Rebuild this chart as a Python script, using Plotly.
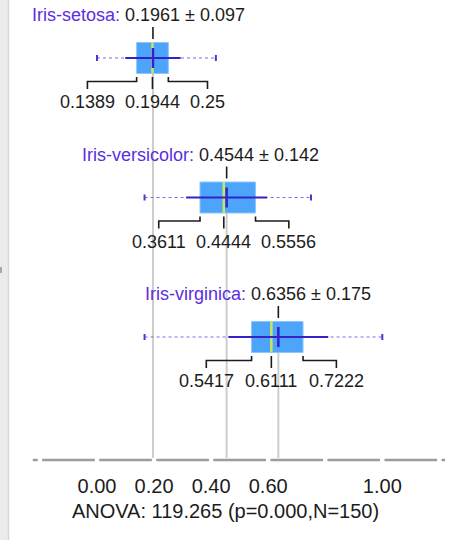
import plotly.graph_objects as go

# Normalised sepal length per iris class: summary statistics
groups = ["Iris-setosa", "Iris-versicolor", "Iris-virginica"]
means = [0.1961, 0.4544, 0.6356]
sds = [0.097, 0.142, 0.175]
q1s = [0.1389, 0.3611, 0.5417]
medians = [0.1944, 0.4444, 0.6111]
q3s = [0.25, 0.5556, 0.7222]
mins = [0.0, 0.1667, 0.1667]
maxs = [0.4167, 0.75, 1.0]

tick_vals = [0.0, 0.2, 0.4, 0.6, 1.0]
tick_text = ["0.00", "0.20", "0.40", "0.60", "1.00"]
axis_marks = [-0.2, 0.0, 0.2, 0.4, 0.6, 0.8, 1.0, 1.2]
axis_span = [-0.225, 1.22]
anova_f, anova_p, n_total = 119.265, 0.000, 150

FONT = "Liberation Sans, Arial, Helvetica, sans-serif"
W, H = 451, 540
X_RANGE = [-0.34, 1.2408]
ROW_PX = 139.5          # vertical distance between rows
FIRST_ROW_PX = 58       # centre of the first row from the top
AXIS_PX = 460           # axis line from the top

px_per_x = W / (X_RANGE[1] - X_RANGE[0])
Y_RANGE = [(H - FIRST_ROW_PX) / ROW_PX, -FIRST_ROW_PX / ROW_PX]
y_axis = (AXIS_PX - FIRST_ROW_PX) / ROW_PX


def dxp(p):
    return p / px_per_x


def dyp(p):
    return p / ROW_PX


WIDTHS = {d: 0.556 for d in "0123456789"}
WIDTHS.update({".": 0.278, " ": 0.278, "±": 0.584})


def text_w(s, size):
    return sum(WIDTHS.get(c, 0.556) for c in s) * size


def fmt(v):
    s = f"{v:.4f}"
    return s.rstrip("0").rstrip(".")


LABEL_SIZE = 18
BOX_HALF = 15.5
GAP = 10

BOX_FILL = "#4ca4fb"
BOX_EDGE = "#8cc6ff"
MEDIAN_C = "#c9e65c"
MEAN_C = "#3321c9"
WHISKER_C = "#7d6ee8"
CAP_C = "#4a36d8"
NAME_C = "#5a2ee0"
TEXT_C = "#1c1c1c"
GRID_C = "#cdcdcd"
AXIS_C = "#9c9c9c"

shapes = []
annotations = []

# side panel edge with its splitter handle
shapes.append(dict(type="rect", xref="paper", yref="paper", x0=0, x1=8 / W, y0=0, y1=1,
                   fillcolor="#ececec", line=dict(width=0), layer="below"))
shapes.append(dict(type="line", xref="paper", yref="paper", x0=8.5 / W, x1=8.5 / W, y0=0, y1=1,
                   line=dict(color="#d8d8d8", width=1.5), layer="below"))
shapes.append(dict(type="rect", xref="paper", yref="paper", x0=0, x1=2 / W,
                   y0=1 - 273 / H, y1=1 - 267 / H,
                   fillcolor="#a8a8a8", line=dict(width=0), layer="below"))

# mean guide lines down to the axis
for k, m in enumerate(means):
    shapes.append(dict(type="line", xref="x", yref="y", x0=m, x1=m, y0=k, y1=y_axis - dyp(2),
                       line=dict(color=GRID_C, width=2), layer="below"))

for k in range(len(groups)):
    m, s = means[k], sds[k]
    q1, med, q3 = q1s[k], medians[k], q3s[k]
    lo, hi = mins[k], maxs[k]

    # whisker (min .. max)
    shapes.append(dict(type="line", xref="x", yref="y", x0=lo, x1=hi, y0=k, y1=k,
                       line=dict(color=WHISKER_C, width=1.2, dash="dot")))
    for v in (lo, hi):
        shapes.append(dict(type="line", xref="x", yref="y", x0=v, x1=v,
                           y0=k - dyp(3), y1=k + dyp(3), line=dict(color=CAP_C, width=2)))
    # interquartile box
    shapes.append(dict(type="rect", xref="x", yref="y", x0=q1, x1=q3,
                       y0=k - dyp(BOX_HALF), y1=k + dyp(BOX_HALF),
                       fillcolor=BOX_FILL, line=dict(color=BOX_EDGE, width=1)))
    # median
    shapes.append(dict(type="line", xref="x", yref="y", x0=med, x1=med,
                       y0=k - dyp(BOX_HALF), y1=k + dyp(BOX_HALF),
                       line=dict(color=MEDIAN_C, width=2.5)))
    # mean +- sd
    shapes.append(dict(type="line", xref="x", yref="y", x0=m - s, x1=m + s, y0=k, y1=k,
                       line=dict(color=MEAN_C, width=2)))
    shapes.append(dict(type="line", xref="x", yref="y", x0=m, x1=m,
                       y0=k - dyp(10), y1=k + dyp(10), line=dict(color=MEAN_C, width=2.5)))
    # tick from box to mean label
    shapes.append(dict(type="line", xref="x", yref="y", x0=m, x1=m,
                       y0=k - dyp(19), y1=k - dyp(31), line=dict(color=TEXT_C, width=1.6)))

    # mean label: name, value centred on the mean, spread
    mean_txt = f"{m:.4f}"
    sd_txt = f"± {s:.3f}"
    half = text_w(mean_txt, LABEL_SIZE) / 2 + text_w(" ", LABEL_SIZE)
    common = dict(xref="x", yref="y", y=k, yshift=43, yanchor="middle", showarrow=False,
                  borderpad=0, borderwidth=0)
    annotations.append(dict(x=m, text=groups[k] + ":", xanchor="right", xshift=-half,
                            font=dict(family=FONT, size=LABEL_SIZE, color=NAME_C), **common))
    annotations.append(dict(x=m, text=mean_txt, xanchor="center",
                            font=dict(family=FONT, size=LABEL_SIZE, color=TEXT_C), **common))
    annotations.append(dict(x=m, text=sd_txt, xanchor="left", xshift=half,
                            font=dict(family=FONT, size=LABEL_SIZE, color=TEXT_C), **common))

    # quartile labels with brackets
    t1, tm, t3 = fmt(q1), fmt(med), fmt(q3)
    w1, wm, w3 = (text_w(t, LABEL_SIZE) for t in (t1, tm, t3))
    x1 = min(q1, med - dxp((w1 + wm) / 2 + GAP))
    x3 = max(q3, med + dxp((wm + w3) / 2 + GAP))
    ya, yb, yc = k + dyp(19), k + dyp(23.5), k + dyp(31)
    for qx, lx in ((q1, x1), (q3, x3)):
        shapes.append(dict(type="path", xref="x", yref="y",
                           path=f"M {qx},{ya} L {qx},{yb} L {lx},{yb} L {lx},{yc}",
                           line=dict(color=TEXT_C, width=1.6)))
    shapes.append(dict(type="line", xref="x", yref="y", x0=med, x1=med, y0=ya, y1=yc,
                       line=dict(color=TEXT_C, width=1.6)))
    for lx, t in ((x1, t1), (med, tm), (x3, t3)):
        annotations.append(dict(xref="x", yref="y", x=lx, y=k, yshift=-44, text=t,
                                xanchor="center", yanchor="middle", showarrow=False,
                                borderpad=0, borderwidth=0,
                                font=dict(family=FONT, size=LABEL_SIZE, color=TEXT_C)))

# broken axis line
bounds = [axis_span[0]] + axis_marks + [axis_span[1]]
gap = dxp(2.2)
seg_x, seg_y = [], []
for a, b in zip(bounds[:-1], bounds[1:]):
    a2 = a + gap if a in axis_marks else a
    b2 = b - gap if b in axis_marks else b
    seg_x += [a2, b2, None]
    seg_y += [y_axis, y_axis, None]

fig = go.Figure()
fig.add_trace(go.Scatter(x=seg_x, y=seg_y, mode="lines", hoverinfo="skip",
                         line=dict(color=AXIS_C, width=2.5), showlegend=False))

fig.update_layout(
    width=W, height=H,
    margin=dict(l=0, r=0, t=0, b=0),
    paper_bgcolor="white", plot_bgcolor="white",
    showlegend=False,
    shapes=shapes,
    annotations=annotations,
    xaxis=dict(
        range=X_RANGE, anchor="free", position=(H - AXIS_PX) / H,
        showgrid=False, zeroline=False, showline=False, ticks="",
        tickvals=tick_vals, ticktext=tick_text,
        tickfont=dict(family=FONT, size=20, color=TEXT_C),
        ticklabelstandoff=12,
        title=dict(text=f"ANOVA: {anova_f:.3f} (p={anova_p:.3f},N={n_total})",
                   font=dict(family=FONT, size=20, color=TEXT_C), standoff=7),
        automargin=False, fixedrange=True,
    ),
    yaxis=dict(range=Y_RANGE, visible=False, fixedrange=True),
)

fig.write_html("out.html")
